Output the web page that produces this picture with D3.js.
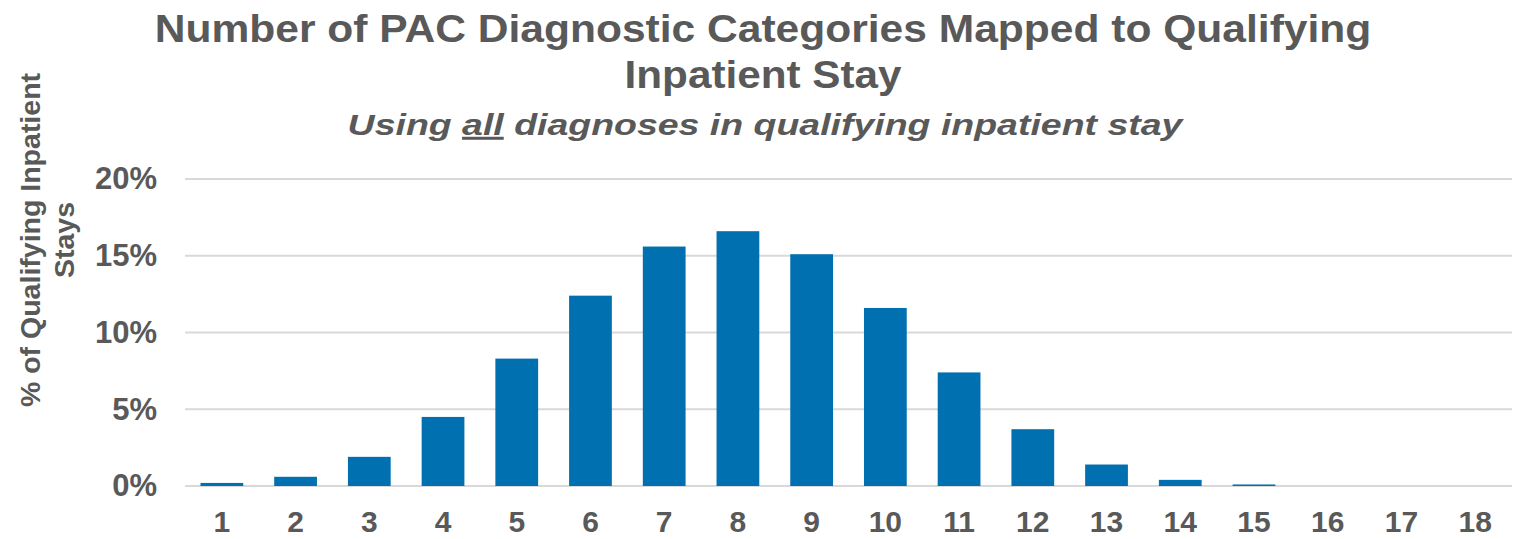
<!DOCTYPE html>
<html><head><meta charset="utf-8">
<script src="https://cdn.jsdelivr.net/npm/d3@7"></script>
<style>body{margin:0;background:#fff}svg{display:block}</style>
</head><body>
<svg id="c" width="1516" height="539"></svg>
<script>
const categories = ["1","2","3","4","5","6","7","8","9","10","11","12","13","14","15","16","17","18"];
const values = [0.2,0.6,1.9,4.5,8.3,12.4,15.6,16.6,15.1,11.6,7.4,3.7,1.4,0.4,0.1,0,0,0];
const yTicks = [0,5,10,15,20];
const titleLines = ["Number of PAC Diagnostic Categories Mapped to Qualifying","Inpatient Stay"];
const subtitleParts = ["Using ","all"," diagnoses in qualifying inpatient stay"];
const yLabelLines = ["% of Qualifying Inpatient","Stays"];

const svg = d3.select("#c");
const font = "'Liberation Sans', Arial, sans-serif";
const grey = "#595959";
const m = {left:185, right:1512, top:179, bottom:486};

const x = d3.scaleBand().domain(categories).range([m.left, m.right]).paddingInner(0.42).paddingOuter(0.21);
const y = d3.scaleLinear().domain([0,20]).range([m.bottom, m.top]);

// gridlines
svg.append("g").selectAll("line").data(yTicks).join("line")
  .attr("x1", m.left).attr("x2", m.right)
  .attr("y1", d=>y(d)).attr("y2", d=>y(d))
  .attr("stroke", "#d9d9d9").attr("stroke-width", 2);

// bars
svg.append("g").selectAll("rect").data(values).join("rect")
  .attr("x", (d,i)=>x(categories[i]))
  .attr("width", x.bandwidth())
  .attr("y", d=>y(d))
  .attr("height", d=>y(0)-y(d))
  .attr("fill", "#0070b0");

// y axis
const yAxis = d3.axisLeft(y).tickValues(yTicks).tickFormat(d=>d+"%").tickSize(0).tickPadding(28);
const gy = svg.append("g").attr("transform", `translate(${m.left},0)`).call(yAxis);
gy.select(".domain").remove();
gy.selectAll("text").attr("font-family", font).attr("font-weight","bold").attr("font-size", 31).attr("fill", grey);

// x axis
const xAxis = d3.axisBottom(x).tickSize(0).tickPadding(0);
const gx = svg.append("g").attr("transform", `translate(0,${m.bottom})`).call(xAxis);
gx.select(".domain").remove();
gx.selectAll("text").attr("dy", null).attr("y", 46)
  .attr("font-family", font).attr("font-weight","bold").attr("font-size", 30).attr("fill", grey);

// helper: horizontally scale a centred text to a target width
function fitWidth(sel, cx, cy, target) {
  sel.each(function(){
    const w = this.getComputedTextLength();
    d3.select(this).attr("x", 0).attr("y", 0)
      .attr("transform", `translate(${cx},${cy}) scale(${target / w},1)`);
  });
}

// title
const tWidths = [1217, 277];
const tY = [42, 88];
svg.append("g").selectAll("text").data(titleLines).join("text")
  .attr("text-anchor","middle").attr("font-family", font).attr("font-weight","bold")
  .attr("font-size", 38).attr("fill", grey)
  .text(d=>d)
  .each(function(d,i){ fitWidth(d3.select(this), 763, tY[i], tWidths[i]); });

const sub = svg.append("text")
  .attr("text-anchor","middle").attr("font-family", font).attr("font-weight","bold")
  .attr("font-style","italic").attr("font-size", 30).attr("fill", grey);
subtitleParts.forEach((p,i)=>{
  sub.append("tspan").attr("text-decoration", i===1 ? "underline" : null).text(p);
});
fitWidth(sub, 765, 135, 835);

// y label
svg.append("g").selectAll("text").data(yLabelLines).join("text")
  .attr("transform", (d,i)=>`translate(${40 + i*34},240) rotate(-90)`)
  .attr("text-anchor","middle").attr("font-family", font).attr("font-weight","bold")
  .attr("font-size", 28.5).attr("fill", grey).text(d=>d);
</script>
</body></html>
